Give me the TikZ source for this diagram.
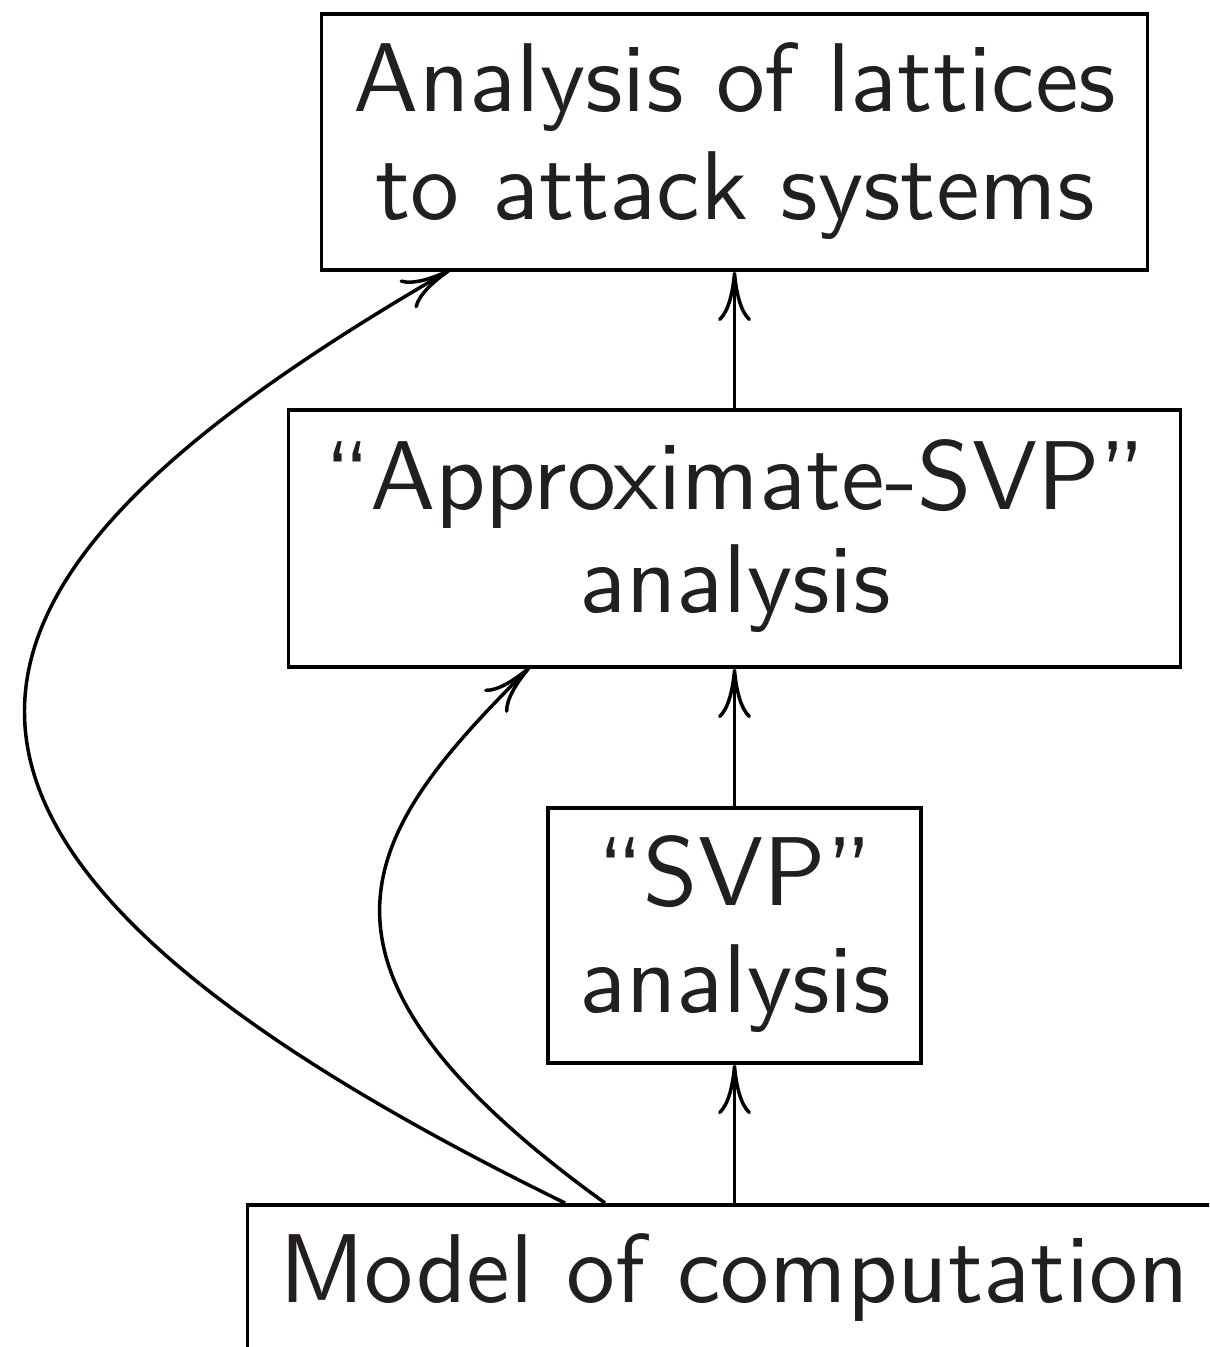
\documentclass[tikz,border=0pt]{standalone}
\usetikzlibrary{arrows.meta}
\definecolor{ink}{HTML}{231F20}
\begin{document}
\begin{tikzpicture}[x=0.10309pt,y=-0.10309pt,
  box/.style={draw=black, line width=0.36pt, inner sep=0pt},
  lbl/.style={anchor=base, inner sep=0pt, text=ink, font=\sffamily\fontsize{10.08}{12}\selectfont},
  arr/.style={draw=black, line width=0.36pt, -{To[length=5.1pt,width=3.4pt]}}]
\useasboundingbox (0,0) rectangle (1209,1347);
\clip (0,0) rectangle (1209,1347);
% boxes
\node[box, minimum width=85.15pt, minimum height=26.39pt] (top) at (734.5,142) {};
\node[box, minimum width=91.96pt, minimum height=26.49pt] (mid) at (734.5,538.5) {};
\node[box, minimum width=38.45pt, minimum height=26.29pt] (svp) at (734.5,935.5) {};
\node[box, minimum width=100.4pt, minimum height=25pt, anchor=north] (model) at (734.5,1203) {};
% texts
\node[lbl] (t1) at (735,112) {Analysis of lattices};
\node[lbl] (t2) at (735,220) {to attack systems};
\node[lbl] (m1) at (735,510) {``Approximate-SVP''};
\node[lbl] (m2) at (735,612) {analysis};
\node[lbl] (s1) at (735,905) {``SVP''};
\node[lbl] (s2) at (735,1012) {analysis};
\node[lbl] (c1) at (734,1302) {Model of computation};
% connectors
\draw[arr] (model.north) -- (svp.south);
\draw[arr] (svp.north) -- (mid.south);
\draw[arr] (mid.north) -- (top.south);
\coordinate (a1) at (565,1203);
\coordinate (a2) at (605,1203);
\coordinate (b1) at (450,270);
\coordinate (b2) at (530,667);
\draw[arr] (a1) .. controls (-199,829) and (-73,573) .. (b1);
\draw[arr] (a2) .. controls (268,960) and (367,830) .. (b2);
\end{tikzpicture}
\end{document}
